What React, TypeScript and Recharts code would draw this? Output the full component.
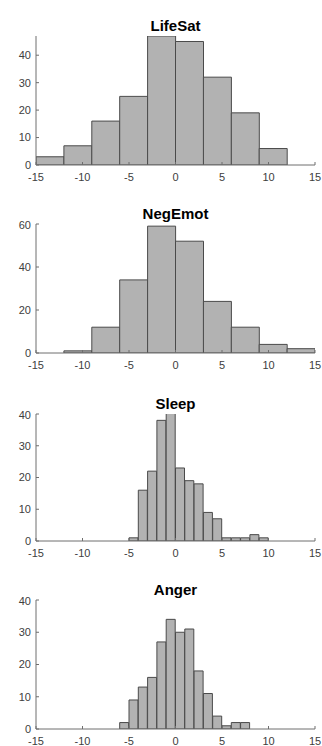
import { BarChart, Bar, XAxis, YAxis } from 'recharts'

// histogram bins: left edges, common bin width, counts per bin
const xTicks = [-15, -10, -5, 0, 5, 10, 15]

const lifeSatEdges = [-15, -12, -9, -6, -3, 0, 3, 6, 9]
const lifeSatCounts = [3, 7, 16, 25, 47, 45, 32, 19, 6]
const lifeSatYTicks = [0, 10, 20, 30, 40]

const negEmotEdges = [-12, -9, -6, -3, 0, 3, 6, 9, 12]
const negEmotCounts = [1, 12, 34, 59, 52, 24, 12, 4, 2]
const negEmotYTicks = [0, 20, 40, 60]

const sleepEdges = [-5, -4, -3, -2, -1, 0, 1, 2, 3, 4, 5, 6, 7, 8, 9]
const sleepCounts = [1, 16, 22, 38, 41, 23, 19, 18, 9, 7, 1, 1, 1, 2, 1]
const sleepYTicks = [0, 10, 20, 30, 40]

const angerEdges = [-6, -5, -4, -3, -2, -1, 0, 1, 2, 3, 4, 5, 6, 7]
const angerCounts = [2, 9, 13, 16, 27, 34, 30, 31, 18, 11, 4, 1, 2, 2]
const angerYTicks = [0, 10, 20, 30, 40]

const FONT = '"Liberation Sans", Arial, sans-serif'
const AXIS = '#6e6e6e'
const LABEL = '#404040'

type PanelProps = {
  title: string
  edges: number[]
  binWidth: number
  counts: number[]
  yMax: number
  yTicks: number[]
  plotTop: number
  plotH: number
}

function Panel({ title, edges, binWidth, counts, yMax, yTicks, plotTop, plotH }: PanelProps) {
  const data = edges.map((e, i) => ({ x: e + binWidth / 2, count: counts[i] }))
  return (
    <>
      <div
        style={{
          position: 'absolute',
          top: plotTop - 5 - 12.7,
          left: 36,
          width: 279,
          textAlign: 'center',
          fontFamily: FONT,
          fontWeight: 'bold',
          fontSize: 15,
          lineHeight: '15px',
          color: '#000',
        }}
      >
        {title}
      </div>
      <div style={{ position: 'absolute', top: plotTop - 5, left: 0 }}>
        <BarChart
          width={322}
          height={plotH + 30}
          data={data}
          margin={{ top: 5, right: 7, bottom: 5, left: 0 }}
          barCategoryGap={0}
          barGap={0}
        >
          <XAxis
            type="number"
            dataKey="x"
            domain={[-15, 15]}
            ticks={xTicks}
            allowDataOverflow
            height={20}
            stroke={AXIS}
            tickSize={-3}
            tickMargin={11}
            tick={{ fill: LABEL, fontSize: 11, fontFamily: FONT }}
          />
          <YAxis
            type="number"
            domain={[0, yMax]}
            ticks={yTicks}
            allowDataOverflow
            width={36}
            stroke={AXIS}
            tickSize={-3}
            tickMargin={8}
            tick={{ fill: LABEL, fontSize: 11, fontFamily: FONT }}
          />
          <Bar dataKey="count" fill="#b2b2b2" stroke="#4a4a4a" strokeWidth={1} isAnimationActive={false} />
        </BarChart>
      </div>
    </>
  )
}

export default function App() {
  return (
    <div style={{ position: 'absolute', top: 0, left: 0, width: 322, height: 746, background: '#fff', overflow: 'hidden' }}>
      <Panel title="LifeSat" edges={lifeSatEdges} binWidth={3} counts={lifeSatCounts} yMax={47} yTicks={lifeSatYTicks} plotTop={36} plotH={129} />
      <Panel title="NegEmot" edges={negEmotEdges} binWidth={3} counts={negEmotCounts} yMax={60} yTicks={negEmotYTicks} plotTop={224} plotH={129} />
      <Panel title="Sleep" edges={sleepEdges} binWidth={1} counts={sleepCounts} yMax={40} yTicks={sleepYTicks} plotTop={414} plotH={127} />
      <Panel title="Anger" edges={angerEdges} binWidth={1} counts={angerCounts} yMax={40} yTicks={angerYTicks} plotTop={600} plotH={129} />
    </div>
  )
}
